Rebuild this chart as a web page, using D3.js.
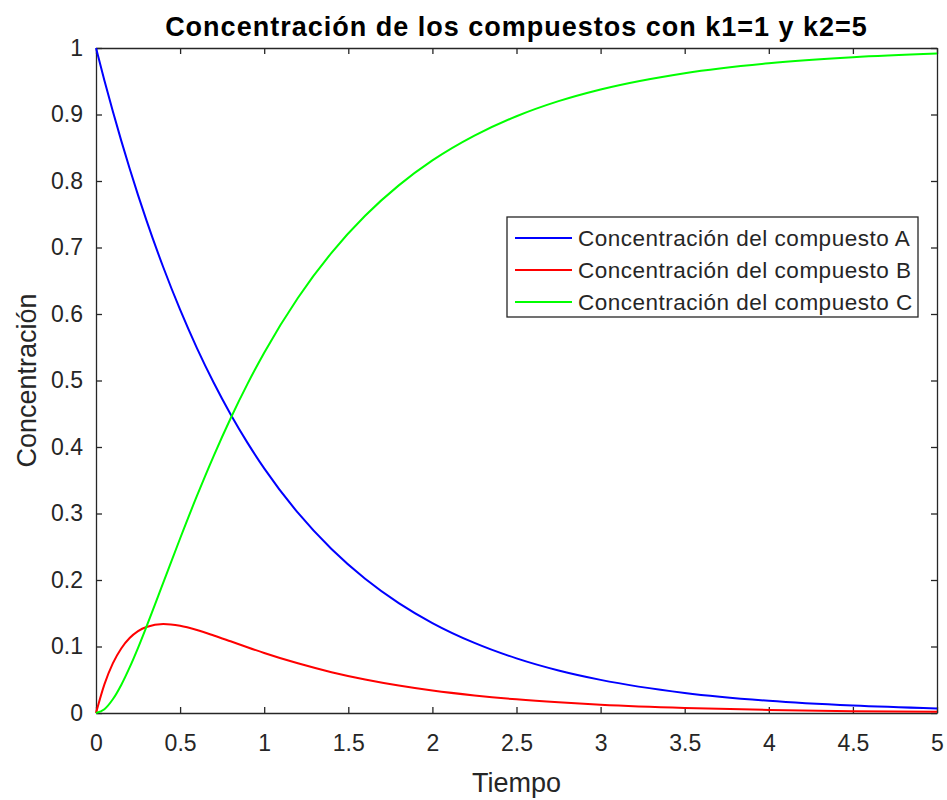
<!DOCTYPE html>
<html>
<head>
<meta charset="utf-8">
<script src="https://cdn.jsdelivr.net/npm/d3@7"></script>
<style>
  body { margin: 0; background: #fff; }
  svg { display: block; font-family: Arial, "Liberation Sans", Helvetica, sans-serif; }
  .axis text { fill: #262626; font-size: 23px; }
  .axis path, .axis line { stroke: #262626; stroke-width: 1.3; }
</style>
</head>
<body>
<svg width="947" height="800"></svg>
<script>
// time points (Tiempo)
const tiempo = [0, 0.05, 0.1, 0.15, 0.2, 0.25, 0.3, 0.4, 0.5, 0.6, 0.7, 0.8, 0.9, 1.0,
  1.2, 1.4, 1.6, 1.8, 2.0, 2.25, 2.5, 2.75, 3.0, 3.5, 4.0, 4.5, 5.0];

const compA = [1, 0.9512, 0.9048, 0.8607, 0.8187, 0.7788, 0.7408, 0.6703, 0.6065, 0.5488,
  0.4966, 0.4493, 0.4066, 0.3679, 0.3012, 0.2466, 0.2019, 0.1653, 0.1353, 0.1054,
  0.0821, 0.0639, 0.0498, 0.0302, 0.0183, 0.0111, 0.0067];

const compB = [0, 0.0431, 0.0746, 0.0971, 0.1127, 0.1231, 0.1294, 0.1338, 0.1311, 0.1248,
  0.1166, 0.1078, 0.0989, 0.0903, 0.0747, 0.0614, 0.0504, 0.0413, 0.0338, 0.0264,
  0.0205, 0.0160, 0.0125, 0.0076, 0.0046, 0.0028, 0.0017];

const compC = [0, 0.0057, 0.0206, 0.0422, 0.0686, 0.0981, 0.1298, 0.1959, 0.2624, 0.3264,
  0.3868, 0.4429, 0.4945, 0.5418, 0.6241, 0.6920, 0.7477, 0.7934, 0.8309, 0.8682,
  0.8974, 0.9201, 0.9377, 0.9622, 0.9771, 0.9861, 0.9916];

const seriesNames = ["Concentración del compuesto A", "Concentración del compuesto B", "Concentración del compuesto C"];
const seriesColors = ["#0000ff", "#ff0000", "#00ff00"];
const xTicks = [0, 0.5, 1, 1.5, 2, 2.5, 3, 3.5, 4, 4.5, 5];
const yTicks = [0, 0.1, 0.2, 0.3, 0.4, 0.5, 0.6, 0.7, 0.8, 0.9, 1];

const svg = d3.select("svg");
const plotL = 96, plotR = 937, plotT = 48, plotB = 713;

const x = d3.scaleLinear().domain([0, 5]).range([plotL, plotR]);
const y = d3.scaleLinear().domain([0, 1]).range([plotB, plotT]);
const fmt = d => String(d);

svg.append("g").attr("class", "axis")
  .attr("transform", `translate(0,${plotB})`)
  .call(d3.axisBottom(x).tickValues(xTicks).tickFormat(fmt).tickSizeInner(-6).tickSizeOuter(0).tickPadding(22));
svg.append("g").attr("class", "axis")
  .attr("transform", `translate(0,${plotT})`)
  .call(d3.axisTop(x).tickValues(xTicks).tickFormat("").tickSizeInner(-6).tickSizeOuter(0));
svg.append("g").attr("class", "axis")
  .attr("transform", `translate(${plotL},0)`)
  .call(d3.axisLeft(y).tickValues(yTicks).tickFormat(fmt).tickSizeInner(-6).tickSizeOuter(0).tickPadding(13));
svg.append("g").attr("class", "axis")
  .attr("transform", `translate(${plotR},0)`)
  .call(d3.axisRight(y).tickValues(yTicks).tickFormat("").tickSizeInner(-6).tickSizeOuter(0));

svg.selectAll(".axis").attr("font-family", null).attr("font-size", null);

const series = [compA, compB, compC];
const line = d3.line()
  .x((d, i) => x(tiempo[i]))
  .y(d => y(d))
  .curve(d3.curveMonotoneX);

svg.append("g").selectAll("path")
  .data(series)
  .join("path")
  .attr("d", line)
  .attr("fill", "none")
  .attr("stroke", (d, i) => seriesColors[i])
  .attr("stroke-width", 2);

// title and labels
svg.append("text")
  .attr("x", (plotL + plotR) / 2).attr("y", 36)
  .attr("text-anchor", "middle")
  .attr("font-size", 27).attr("font-weight", "bold").attr("fill", "#000")
  .attr("letter-spacing", 1)
  .text("Concentración de los compuestos con k1=1 y k2=5");

svg.append("text")
  .attr("x", (plotL + plotR) / 2).attr("y", 792)
  .attr("text-anchor", "middle")
  .attr("font-size", 27).attr("fill", "#262626")
  .text("Tiempo");

svg.append("text")
  .attr("transform", `translate(36,${(plotT + plotB) / 2}) rotate(-90)`)
  .attr("text-anchor", "middle")
  .attr("font-size", 27).attr("fill", "#262626")
  .text("Concentración");

// legend
const lg = svg.append("g").attr("transform", "translate(507,217)");
lg.append("rect")
  .attr("width", 411).attr("height", 100)
  .attr("fill", "#fff").attr("stroke", "#262626").attr("stroke-width", 1.3);
const rows = lg.selectAll("g.row")
  .data(seriesNames)
  .join("g")
  .attr("class", "row")
  .attr("transform", (d, i) => `translate(0,${21 + i * 32})`);
rows.append("line")
  .attr("x1", 8).attr("x2", 65)
  .attr("stroke", (d, i) => seriesColors[i]).attr("stroke-width", 2);
rows.append("text")
  .attr("x", 71).attr("dy", "0.35em")
  .attr("font-size", 22.5).attr("fill", "#262626")
  .attr("letter-spacing", 0.5)
  .text(d => d);
</script>
</body>
</html>
